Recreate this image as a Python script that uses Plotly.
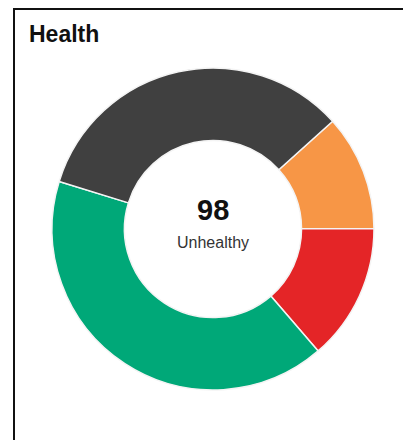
import plotly.graph_objects as go

# Health status breakdown
labels = ["Warning", "Critical", "Healthy", "Unhealthy"]
values = [34, 40, 120, 98]
colors = ["#F79646", "#E42527", "#00A878", "#404040"]

center_value = values[labels.index("Unhealthy")]
center_label = "Unhealthy"

W, H = 403, 440
cx, cy, r = 213, 229, 161

fig = go.Figure(
    go.Pie(
        labels=labels,
        values=values,
        marker=dict(colors=colors, line=dict(color="#F4F4F4", width=1.5)),
        hole=0.55,
        sort=False,
        direction="clockwise",
        rotation=48,
        textinfo="none",
        hoverinfo="label+value",
        showlegend=False,
        domain=dict(
            x=[(cx - r) / W, (cx + r) / W],
            y=[1 - (cy + r) / H, 1 - (cy - r) / H],
        ),
    )
)

fig.update_layout(
    width=W,
    height=H,
    margin=dict(l=0, r=0, t=0, b=0),
    paper_bgcolor="white",
    plot_bgcolor="white",
    font=dict(family="Liberation Sans, Arial, sans-serif"),
    annotations=[
        dict(text="<b>Health</b>", x=27 / W, y=1 - 34 / H, xref="paper", yref="paper",
             xanchor="left", yanchor="middle", showarrow=False,
             font=dict(size=23, color="#111111")),
        dict(text=f"<b>{center_value}</b>", x=cx / W, y=1 - 210 / H, xref="paper", yref="paper",
             xanchor="center", yanchor="middle", showarrow=False,
             font=dict(size=29, color="#111111")),
        dict(text=center_label, x=cx / W, y=1 - 242 / H, xref="paper", yref="paper",
             xanchor="center", yanchor="middle", showarrow=False,
             font=dict(size=16, color="#333333")),
    ],
    shapes=[
        # card frame: left and top edges
        dict(type="line", xref="paper", yref="paper", x0=14 / W, x1=14 / W, y0=0, y1=1 - 8 / H,
             line=dict(color="#111111", width=2)),
        dict(type="line", xref="paper", yref="paper", x0=13 / W, x1=1, y0=1 - 9 / H, y1=1 - 9 / H,
             line=dict(color="#111111", width=2)),
    ],
)

fig.write_html("out.html")
